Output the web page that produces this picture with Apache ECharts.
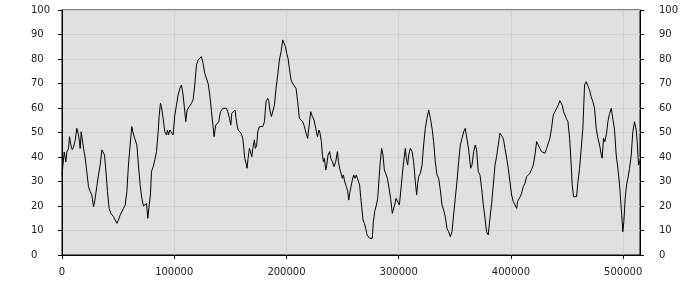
<!DOCTYPE html>
<html>
<head>
<meta charset="utf-8">
<script src="https://cdn.jsdelivr.net/npm/echarts@6/dist/echarts.min.js"></script>
<style>
html,body{margin:0;padding:0;background:#fff;}
#chart{width:700px;height:300px;}
</style>
</head>
<body>
<div id="chart"></div>
<script>
var xValues = [0,800,2000,3400,4300,5800,6700,7900,9100,10300,11800,13200,14700,15600,16200,17100,18300,19200,20700,22100,23600,25100,26600,28100,29300,31000,32500,34000,35500,37000,37900,39400,40500,42000,43500,44700,45900,47400,48900,50300,51800,53300,54800,56300,57800,59200,60700,62200,63100,64300,65500,66700,68100,69600,71100,72600,
73800,75300,76500,77700,78800,79700,81200,82700,84200,85700,86600,87700,88600,90100,91600,93100,94000,94900,96100,97500,99000,100500,102000,103500,105000,106400,107900,109400,110300,111500,113300,115300,116800,118300,119800,121300,122800,124200,125700,127200,128700,130200,131700,133200,134600,135500,137000,138200,139700,141200,142400,143500,145000,146500,
147700,149200,150400,151300,152700,154200,155100,156000,156900,158100,159600,161100,162000,162800,164000,164900,165800,167000,167900,169100,170000,171400,172300,173500,174400,175900,177400,178900,180400,181800,183300,184200,185400,186600,187800,189300,190700,192200,193700,195200,196700,197900,199100,200200,201400,202600,204100,205600,207100,208500,210000,211500,213000,214500,216000,217500,218900,220400,
221600,223100,224600,226100,227600,229000,229900,231100,232000,232900,233800,235000,235900,237000,238500,239400,240900,242400,243900,245400,246300,247400,248600,249800,250700,251900,253400,254600,255500,256300,257500,258700,259900,261100,262300,263200,264100,265200,266100,267000,268200,269400,270600,271800,273000,274200,275300,276500,277400,278600,280100,281300,282500,283600,284800,286000,287200,288400,289900,291400,292800,294300,
295200,296400,297600,299100,300600,301500,302900,304400,305900,306800,308000,308900,310400,311900,313300,314800,316000,316900,317800,319300,320800,322200,323700,325200,326700,328200,329700,331100,332600,334100,335600,337100,338600,340000,341500,343000,344500,346000,347500,348900,350400,351900,353400,354900,356400,357900,359300,360500,361700,362900,364100,365300,366800,368200,
369400,370900,372400,373900,375400,376900,378300,379800,381300,382800,384300,385800,387200,388700,390200,391100,392300,393500,394700,396200,397600,399100,400600,402100,403600,405100,405900,407100,408300,409500,411000,412500,414000,415400,416900,418400,419900,421400,422900,424300,425800,427300,428800,430300,431800,433300,434700,436200,437700,439200,440700,442200,
443500,445700,446900,448100,449300,450800,452300,453700,454600,455800,457300,458500,459700,461200,462600,464100,465600,467100,468600,470100,471500,473000,474500,476000,477500,479000,480500,481300,482500,483700,485200,486400,487900,489400,490800,492300,493800,495300,496800,498300,499700,500600,501800,503000,504200,505700,507200,508600,510100,511600,512500,513700,514900];

var yValues = [32.7,36.7,42,38,42,43.5,48.3,45,43,44,47,51.7,49,46,43.5,50.3,49.7,43.5,39.5,34,27.9,25.9,24.5,19.7,22.4,27.9,32.7,36.7,42.9,43.5,40.8,32.7,25.9,19,17,17,15.6,16.3,12.9,14.3,16.3,17,19,20.4,25.9,36.7,44.9,52.4,50.3,48.3,49,44.9,36.7,28.6,23.1,20,
20.4,21,15,20.4,24.5,34,36,38.8,42.2,50.3,57,61.9,60.5,55.8,50.3,49,51,49,51,51,49,57,61.2,65.3,68,69.4,65.3,58.5,54.4,59.2,60.5,61.9,63.3,69.4,77.6,79.6,80.3,81,78.2,74.1,74.1,70,65.3,58.5,52.4,48.3,53,53.7,54.4,58.5,58.5,59.9,59.9,59.9,
58.5,55.8,53,57.8,58.5,59.2,55.8,53,51,51,49.7,47.6,43.5,39.5,37.4,35.4,39.5,43.5,42.2,40.1,43.5,47,43.5,44.9,50.3,52.4,53,52.4,54.4,62.6,63.9,63,58.5,56.5,57.1,61.2,68,73.5,79.6,83,87.8,87.1,85,82.3,80.3,76.2,71.4,70,70.7,68,62.6,55.8,55.1,54.4,52.4,49.7,47.6,48.3,
58.5,56.5,55.1,51.7,48.3,51,49.7,46.3,40.8,38.1,39.5,34.7,36.7,40.8,42.2,39.5,38.1,36.1,38.1,42.2,38.1,35.4,34.7,31.3,32.7,29.9,27.9,25.9,22.4,25.2,27.9,30.6,32.7,31.3,32.7,31.3,32,28.6,23.8,19.7,14.3,12.9,10.9,8.2,7.5,6.8,6.1,6.8,13.6,17.7,20.4,23.1,31.3,38.1,43.5,40.8,34.7,33.3,31.3,27.2,23.1,17,
16.3,20.4,23.1,23.8,20.4,24.5,31.3,38.1,43.5,39.5,36.7,40.8,43.5,42.2,38.1,29.9,24.5,29.3,32,33.3,36.7,44.9,51.7,55.8,59.2,55.8,51.7,46.3,38.1,32.7,31.3,26.5,20.4,18.4,15.6,10.9,9.5,7.5,9.5,16.3,23.1,29.9,38.1,44.9,47.6,50.3,51.7,51,44.9,40.8,35.4,36.7,42.2,44.9,
42.9,34,32.7,27.2,20.4,15,9.5,8.2,15,21.1,28.6,36.7,40.1,44.9,49.7,50.3,48.3,46.9,43.5,39.5,35.4,29.9,24.5,21.8,21.1,19,21.8,22.4,23.8,25.2,27.9,29.3,32,32.7,33.3,33,36.7,40.8,46.3,44.9,43.5,42.2,41.5,41.5,43.5,43.5,47.6,51.7,57.1,58.5,57.8,61.2,
63,61.2,58.5,59.2,55.8,54.4,47.6,36.7,28.6,23.8,23.1,23.8,29.9,35.4,43.5,51.7,69.4,70.7,70,67.3,64.6,62.6,59.9,51.7,47.6,44.9,40.8,39.5,47.6,46.3,49.7,54.4,57.8,59.9,59.9,51,40.8,35.4,28.6,19,9.5,13.6,23.1,28.6,31.3,35.4,40.8,50.3,54.4,51,46.3,36.7,38.5];

var xMax = 515000;
var xInterval = 100000;
var yMax = 100;
var yInterval = 10;

var data = xValues.map(function (x, i) { return [x, yValues[i]]; });

var chart = echarts.init(document.getElementById('chart'), null, {renderer: 'canvas'});
var labelFont = {fontFamily: 'DejaVu Sans', fontSize: 10, color: '#222'};
function plain(v) { return String(Math.round(v)); }
chart.setOption({
  animation: false,
  backgroundColor: '#ffffff',
  grid: {left: 62, right: 60, top: 10, bottom: 45, show: true,
         backgroundColor: '#e0e0e0', borderColor: '#000', borderWidth: 1},
  xAxis: {
    type: 'value', min: 0, max: xMax, interval: xInterval,
    axisLine: {show: true, lineStyle: {color: '#000', width: 1}},
    axisTick: {show: true, length: 4, lineStyle: {color: '#000'}},
    splitLine: {show: true, lineStyle: {color: '#d0d0d0', width: 1}},
    axisLabel: Object.assign({margin: 12, showMaxLabel: false, formatter: plain}, labelFont)
  },
  yAxis: [{
    type: 'value', position: 'left', min: 0, max: yMax, interval: yInterval,
    axisLine: {show: true, lineStyle: {color: '#000'}},
    axisTick: {show: true, length: 4, lineStyle: {color: '#000'}},
    splitLine: {show: true, lineStyle: {color: '#d0d0d0', width: 1}},
    axisLabel: Object.assign({margin: 31, align: 'left', formatter: plain}, labelFont)
  }, {
    type: 'value', position: 'right', min: 0, max: yMax, interval: yInterval,
    axisLine: {show: true, lineStyle: {color: '#000'}},
    axisTick: {show: true, length: 4, lineStyle: {color: '#000'}},
    splitLine: {show: false},
    axisLabel: Object.assign({margin: 19, formatter: plain}, labelFont)
  }],
  series: [{
    type: 'line', yAxisIndex: 0, data: data, showSymbol: false, symbol: 'none',
    lineStyle: {color: '#000', width: 1}, itemStyle: {color: '#000'}
  }]
});
</script>
</body>
</html>
